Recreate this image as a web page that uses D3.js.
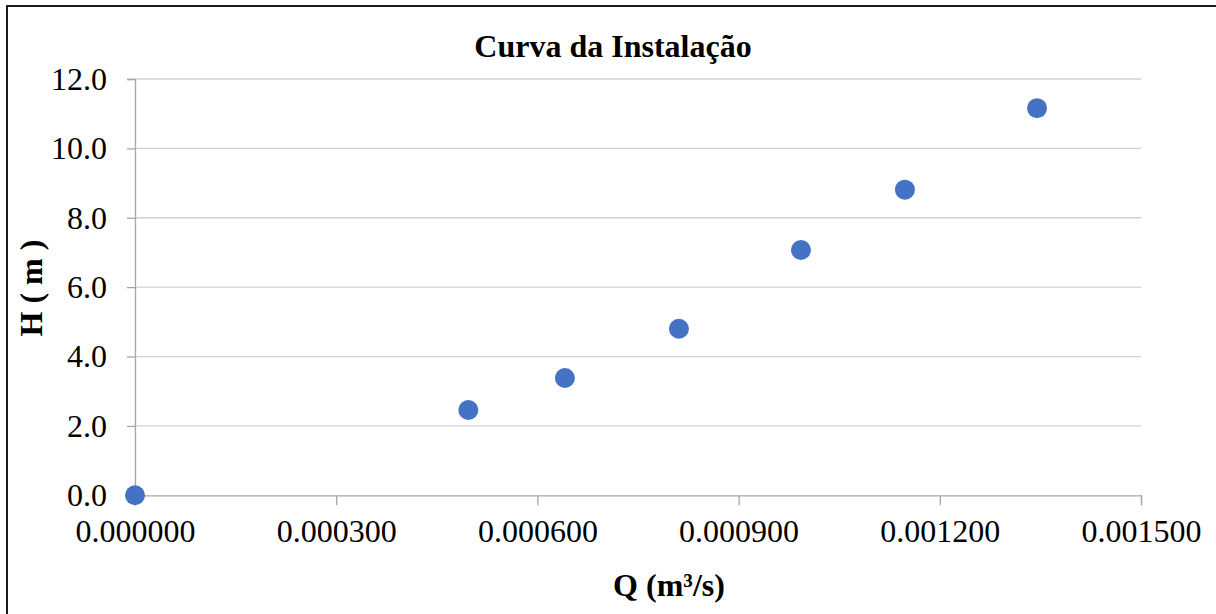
<!DOCTYPE html>
<html>
<head>
<meta charset="utf-8">
<script src="https://cdn.jsdelivr.net/npm/d3@7"></script>
<style>
  html, body { margin: 0; padding: 0; background: #fff; }
  svg { display: block; }
</style>
</head>
<body>
<script>
// Vazão (m³/s) e altura manométrica (m) da curva da instalação
const vazao = [0.000000, 0.000497, 0.000641, 0.000811, 0.000993, 0.001148, 0.001345];
const altura = [0.00, 2.46, 3.38, 4.80, 7.07, 8.81, 11.16];
const xTicks = [0, 0.0003, 0.0006, 0.0009, 0.0012, 0.0015];
const yTicks = [0, 2, 4, 6, 8, 10, 12];
const titulo = "Curva da Instalação";
const tituloX = "Q (m³/s)";
const tituloY = "H ( m )";

const W = 1216, H = 614;
const plot = { left: 135, right: 1141, top: 79, bottom: 495.3 };
const font = "'Liberation Serif', 'Times New Roman', Tinos, serif";

const svg = d3.select("body").append("svg")
  .attr("width", W).attr("height", H);

svg.append("rect").attr("width", W).attr("height", H).attr("fill", "#fff");

// chart frame (left and top edges fall inside the window)
svg.append("path")
  .attr("d", `M7,${H + 2} L7,6 L${W + 2},6`)
  .attr("fill", "none").attr("stroke", "#1a1a1a").attr("stroke-width", 2);

const x = d3.scaleLinear().domain([0, 0.0015]).range([plot.left, plot.right]);
const y = d3.scaleLinear().domain([0, 12]).range([plot.bottom, plot.top]);

// horizontal gridlines
svg.append("g").selectAll("line").data(yTicks.filter(d => d > 0)).join("line")
  .attr("x1", plot.left).attr("x2", plot.right)
  .attr("y1", d => y(d)).attr("y2", d => y(d))
  .attr("stroke", "#d0d0d0").attr("stroke-width", 1.3);

// y axis
const yAxis = svg.append("g")
  .attr("transform", `translate(${plot.left},0)`)
  .call(d3.axisLeft(y).tickValues(yTicks).tickFormat(d3.format(".1f"))
    .tickSize(8).tickPadding(20));
yAxis.select(".domain").attr("stroke", "#a6a6a6").attr("stroke-width", 1.3);
yAxis.selectAll(".tick line").attr("stroke", "#a6a6a6").attr("stroke-width", 1.3);
yAxis.selectAll(".tick text")
  .style("font-family", font).style("font-size", "32px").attr("fill", "#000");

// x axis
const xAxis = svg.append("g")
  .attr("transform", `translate(0,${plot.bottom})`)
  .call(d3.axisBottom(x).tickValues(xTicks).tickFormat(d3.format(".6f"))
    .tickSize(10).tickPadding(14));
xAxis.select(".domain").attr("stroke", "#a6a6a6").attr("stroke-width", 1.3);
xAxis.selectAll(".tick line").attr("stroke", "#a6a6a6").attr("stroke-width", 1.3);
xAxis.selectAll(".tick text")
  .style("font-family", font).style("font-size", "32px").attr("fill", "#000");

// data points
svg.append("g").selectAll("circle").data(vazao.map((q, i) => [q, altura[i]])).join("circle")
  .attr("cx", d => x(d[0])).attr("cy", d => y(d[1]))
  .attr("r", 10).attr("fill", "#4472C4");

// titles
svg.append("text")
  .attr("x", 613).attr("y", 57).attr("text-anchor", "middle")
  .style("font-family", font).style("font-weight", "bold").style("font-size", "32px")
  .text(titulo);

svg.append("text")
  .attr("x", 669).attr("y", 596).attr("text-anchor", "middle")
  .style("font-family", font).style("font-weight", "bold").style("font-size", "32px")
  .text(tituloX);

svg.append("text")
  .attr("transform", "translate(42,288) rotate(-90)")
  .attr("text-anchor", "middle")
  .style("font-family", font).style("font-weight", "bold").style("font-size", "32px")
  .text(tituloY);
</script>
</body>
</html>
